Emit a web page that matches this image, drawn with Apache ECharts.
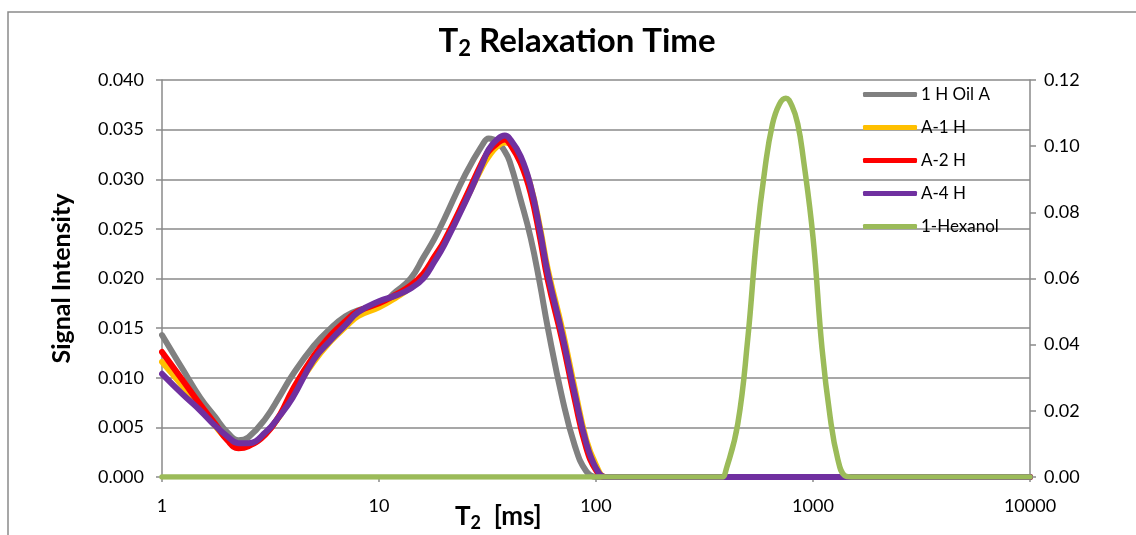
<!DOCTYPE html>
<html><head><meta charset="utf-8">
<script src="https://cdn.jsdelivr.net/npm/echarts@6/dist/echarts.min.js"></script>
<style>html,body{margin:0;padding:0;background:#fff}#c{width:1136px;height:535px}</style>
</head><body><div id="c"></div>
<script>
// ---- data ----
const T = [1,1.25,1.5,1.75,2,2.25,2.5,3,3.5,4,5,6,7,8,10,12,14,16,18,20,25,30,32,35,38,40,45,50,55,60,70,80,90,100,110,120,150,200,500,1000,2000,5000,10000];
const oilA = [0.0143,0.0108,0.0080,0.0061,0.0045,0.0037,0.0040,0.0059,0.0082,0.0103,0.0132,0.0150,0.0162,0.0168,0.0173,0.0187,0.0200,0.0221,0.0240,0.0260,0.0305,0.0335,0.0341,0.0338,0.0328,0.0318,0.0279,0.0241,0.0196,0.0150,0.0079,0.0031,0.0006,0,0,0,0,0,0,0,0,0,0];
const a1H = [0.0116,0.0091,0.0070,0.0052,0.0038,0.0031,0.0032,0.0044,0.0062,0.0084,0.0116,0.0137,0.0151,0.0162,0.0171,0.0181,0.0191,0.0203,0.0219,0.0236,0.0278,0.0313,0.0323,0.0333,0.0337,0.0336,0.0320,0.0293,0.0253,0.0209,0.0148,0.0088,0.0038,0.0012,0,0,0,0,0,0,0,0,0];
const a2H = [0.0126,0.0097,0.0073,0.0054,0.0037,0.0029,0.0031,0.0043,0.0063,0.0088,0.0122,0.0143,0.0157,0.0167,0.0175,0.0184,0.0193,0.0205,0.0222,0.0238,0.0281,0.0318,0.0328,0.0336,0.0340,0.0336,0.0316,0.0286,0.0243,0.0198,0.0137,0.0077,0.0030,0.0007,0,0,0,0,0,0,0,0,0];
const a4H = [0.0104,0.0083,0.0067,0.0052,0.0041,0.0034,0.0034,0.0045,0.0062,0.0080,0.0118,0.0138,0.0153,0.0166,0.0177,0.0183,0.0190,0.0200,0.0217,0.0234,0.0277,0.0316,0.0330,0.0340,0.0344,0.0341,0.0323,0.0293,0.0250,0.0205,0.0143,0.0083,0.0035,0.0009,0,0,0,0,0,0,0,0,0];
const hexT = [1,100,300,350,380,400,450,500,550,600,650,700,750,800,850,900,1000,1100,1200,1300,1400,1500,2000,10000];
const hexanol = [0,0,0,0,0,0.0028,0.0160,0.0415,0.0725,0.0930,0.1066,0.1127,0.1145,0.1122,0.1068,0.0968,0.0725,0.0390,0.0180,0.0055,0.0004,0,0,0];
const seriesNames = ['1 H Oil A','A-1 H','A-2 H','A-4 H','1-Hexanol'];
const xTickLabels = ['1','10','100','1000','10000'];
const yLeftTicks = ['0.000','0.005','0.010','0.015','0.020','0.025','0.030','0.035','0.040'];
const yRightTicks = ['0.00','0.02','0.04','0.06','0.08','0.10','0.12'];

// ---- chart ----
const FONT = 'Lato';
const GRIDC = '#8a8a8a';
const colors = ['#808080','#FFC000','#FF0000','#7030A0','#9BBB59'];
const chart = echarts.init(document.getElementById('c'), null, {renderer:'canvas'});
const pairs = (xs, ys) => xs.map((x,i)=>[x, ys[i]]);
function mk(i, xs, ys, yAxisIndex, width){
  return {name: seriesNames[i], type:'line', data: pairs(xs, ys), yAxisIndex,
    smooth:0.45, symbol:'none', showSymbol:false, z: 2+i,
    lineStyle:{color:colors[i], width, cap:'round', join:'round'},
    itemStyle:{color:colors[i]}, emphasis:{disabled:true}};
}
const axisLineStyle = {color:GRIDC, width:1.5};
const labelStyle = {fontFamily:FONT, fontSize:18, color:'#000'};
const option = {
  animation:false,
  backgroundColor:'#fff',
  grid:{left:162, right:106, top:80, bottom:58},
  xAxis:{type:'log', logBase:10, min:1, max:10000,
    axisLine:{show:true, lineStyle:axisLineStyle},
    axisTick:{show:true, length:5, lineStyle:axisLineStyle},
    minorTick:{show:false}, splitLine:{show:false},
    axisLabel:Object.assign({margin:20, formatter:(v)=>{const k=Math.round(Math.log10(v)); return xTickLabels[k]!==undefined?xTickLabels[k]:'';}}, labelStyle)},
  yAxis:[
    {type:'value', min:0, max:0.04, interval:0.005, position:'left',
     name:'Signal Intensity', nameLocation:'middle', nameGap:88, nameRotate:90,
     nameTextStyle:{fontFamily:FONT, fontWeight:'bold', fontSize:25, color:'#000'},
     axisLine:{show:true, lineStyle:axisLineStyle},
     axisTick:{show:true, length:6, lineStyle:axisLineStyle},
     splitLine:{show:true, lineStyle:{color:GRIDC, width:1.5}},
     axisLabel:Object.assign({margin:18, formatter:(v)=>yLeftTicks[Math.round(v/0.005)]}, labelStyle)},
    {type:'value', min:0, max:0.12, interval:0.02, position:'right',
     axisLine:{show:true, lineStyle:axisLineStyle},
     axisTick:{show:true, length:6, lineStyle:axisLineStyle},
     splitLine:{show:false},
     axisLabel:Object.assign({margin:14, formatter:(v)=>yRightTicks[Math.round(v/0.02)]}, labelStyle)}
  ],
  legend:{orient:'vertical', left:863, top:86, padding:0, itemGap:16, itemWidth:54, itemHeight:5,
    icon:'roundRect', data:seriesNames,
    textStyle:{fontFamily:FONT, fontSize:17, color:'#000', lineHeight:16, padding:[0,0,0,-1]}},
  graphic:[
    {type:'rect', shape:{x:8, y:12, width:1140, height:540}, style:{fill:'none', stroke:'#8a8a8a', lineWidth:1.5}, silent:true, z:-10},
    {type:'text', x:577, y:41, silent:true,
     style:{text:'{m|T}{s|2}{m| Relaxation Time}', align:'center', verticalAlign:'middle',
       rich:{m:{fontFamily:FONT, fontWeight:'bold', fontSize:33, lineHeight:38, fill:'#000'},
             s:{fontFamily:FONT, fontWeight:'bold', fontSize:22, lineHeight:16, verticalAlign:'bottom', fill:'#000'}}}},
    {type:'text', x:455, y:517, silent:true,
     style:{text:'{m|T}{s|2}{m|  [ms]}', align:'left', verticalAlign:'middle',
       rich:{m:{fontFamily:FONT, fontWeight:'bold', fontSize:26, lineHeight:30, fill:'#000'},
             s:{fontFamily:FONT, fontWeight:'bold', fontSize:18, lineHeight:13, verticalAlign:'bottom', fill:'#000'}}}}
  ],
  series:[
    mk(0, T, oilA, 0, 6),
    mk(1, T, a1H, 0, 6),
    mk(2, T, a2H, 0, 6),
    mk(3, T, a4H, 0, 6),
    mk(4, hexT, hexanol, 1, 5.5)
  ]
};
chart.setOption(option);
</script>
</body></html>
